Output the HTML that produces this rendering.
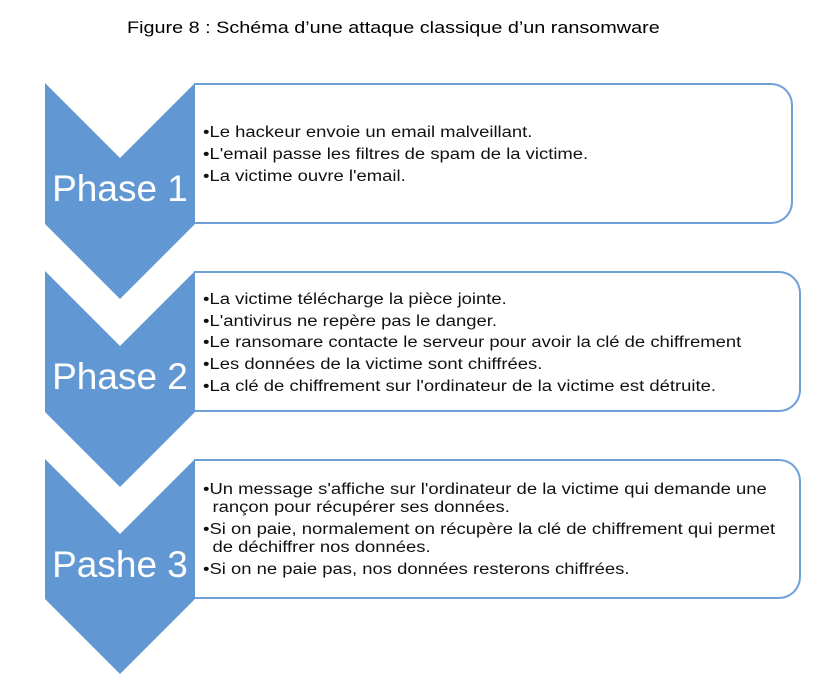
<!DOCTYPE html>
<html><head><meta charset="utf-8"><style>
body{margin:0;width:822px;height:694px;background:#fff;position:relative;overflow:hidden;font-family:"Liberation Sans",Arial,sans-serif;}
.title{position:absolute;top:19px;left:127px;white-space:nowrap;font-size:16.5px;color:#000;transform:scaleX(1.2);transform-origin:left top;}
.box{position:absolute;left:194px;border:2px solid #6f9fd8;border-left:none;border-radius:0 22px 22px 0;background:#fff;box-sizing:border-box;}
.txt{position:absolute;left:9px;white-space:nowrap;transform:scaleX(1.19);transform-origin:left top;}
.txt p{margin:0;font-size:15.5px;color:#111;}
.ind{padding-left:8px;}
.ph{position:absolute;left:35px;width:170px;text-align:center;color:#fff;font-size:37px;}
</style></head><body>
<div class="title">Figure 8 : Schéma d’une attaque classique d’un ransomware</div>
<div class="box" style="top:83px;width:599px;height:141px;">
<div class="txt" style="top:37px">
<p style="line-height:22px">•Le hackeur envoie un email malveillant.</p>
<p style="line-height:22px">•L'email passe les filtres de spam de la victime.</p>
<p style="line-height:22px">•La victime ouvre l'email.</p>
</div></div>
<div class="box" style="top:271px;width:607px;height:141px;">
<div class="txt" style="top:16px">
<p style="line-height:21.7px">•La victime télécharge la pièce jointe.</p>
<p style="line-height:21.7px">•L'antivirus ne repère pas le danger.</p>
<p style="line-height:21.7px">•Le ransomare contacte le serveur pour avoir la clé de chiffrement</p>
<p style="line-height:21.7px">•Les données de la victime sont chiffrées.</p>
<p style="line-height:21.7px">•La clé de chiffrement sur l'ordinateur de la victime est détruite.</p>
</div></div>
<div class="box" style="top:459px;width:607px;height:140px;">
<div class="txt" style="top:20px">
<p style="line-height:18px">•Un message s'affiche sur l'ordinateur de la victime qui demande une<br><span class="ind">rançon pour récupérer ses données.</span></p>
<p style="line-height:18px;margin-top:4px">•Si on paie, normalement on récupère la clé de chiffrement qui permet<br><span class="ind">de déchiffrer nos données.</span></p>
<p style="line-height:18px;margin-top:4px">•Si on ne paie pas, nos données resterons chiffrées.</p>
</div></div>
<svg style="position:absolute;left:0;top:0" width="822" height="694">
<g fill="#6197d2">
<polygon points="45,83 120,158 195,83 195,224 120,299 45,224"/>
<polygon points="45,271 120,346 195,271 195,412 120,487 45,412"/>
<polygon points="45,459 120,534 195,459 195,599 120,674 45,599"/>
</g>
</svg>
<div class="ph" style="top:168px">Phase 1</div>
<div class="ph" style="top:356px">Phase 2</div>
<div class="ph" style="top:544px">Pashe 3</div>
</body></html>
